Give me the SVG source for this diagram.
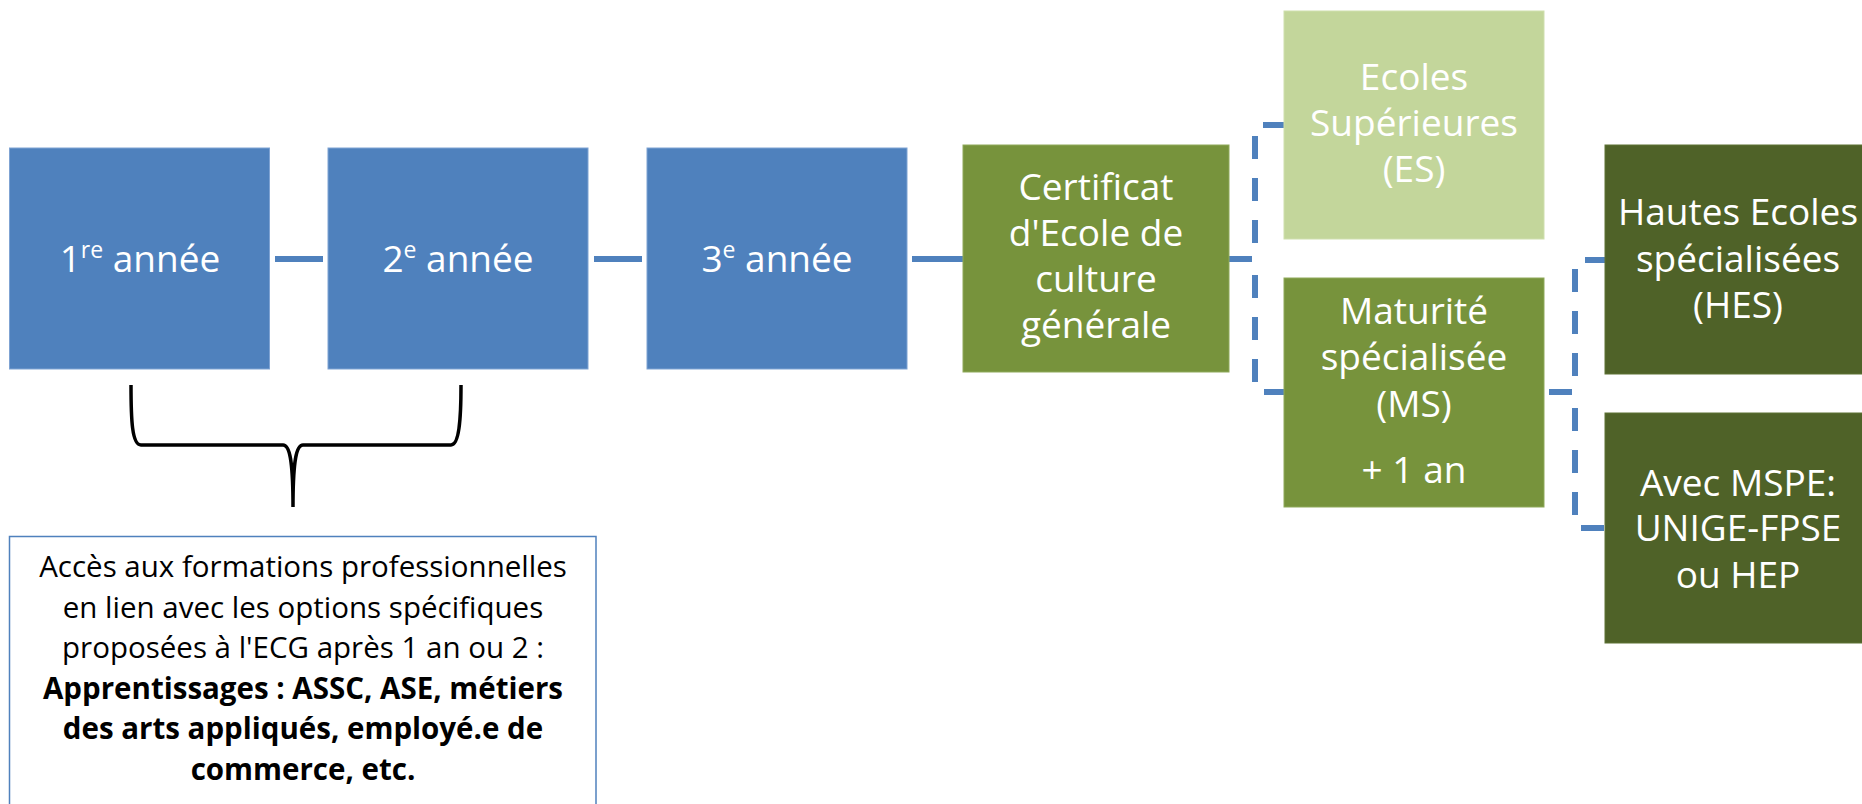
<svg xmlns="http://www.w3.org/2000/svg" width="1862" height="804" viewBox="0 0 1862 804">
  <style>
    .blue { fill: #4F81BD; stroke: #7FA3D3; stroke-width: 1; }
    .green { fill: #77933C; stroke: #8FA95A; stroke-width: 1; }
    .light { fill: #C3D69B; stroke: #CFDFAE; stroke-width: 1; }
    .dark { fill: #4F6228; stroke: #5E7234; stroke-width: 1; }
    .t { font-family: "Open Sans", "Noto Sans", sans-serif; font-size: 37px; fill: #FFFFFF; text-anchor: middle; }
    .sup { font-size: 23px; }
    .note { font-family: "Open Sans", "Noto Sans", sans-serif; font-size: 29.5px; fill: #000000; text-anchor: middle; }
    .b { font-weight: bold; }
    .solid { stroke: #4F81BD; stroke-width: 6; fill: none; }
    .dash { stroke: #4F81BD; stroke-width: 6; fill: none; stroke-dasharray: 23 19; }
  </style>

  <g id="connectors">
    <line class="solid" x1="275" y1="259" x2="323" y2="259"/>
    <line class="solid" x1="594" y1="259" x2="642" y2="259"/>
    <line class="solid" x1="912" y1="259" x2="963" y2="259"/>
    <path class="dash" d="M1229,259 H1255 V125 H1284"/>
    <path class="dash" d="M1229,259 H1255 V392 H1284"/>
    <path class="dash" d="M1549,392 H1575 V260 H1605"/>
    <path class="dash" d="M1549,392 H1575 V528 H1605"/>
  </g>

  <g id="node-annee1">
    <rect class="blue" x="9.5" y="148" width="260" height="221"/>
    <text class="t" x="140" y="272">1<tspan class="sup" dy="-14">re</tspan><tspan dy="14"> année</tspan></text>
  </g>
  <g id="node-annee2">
    <rect class="blue" x="328" y="148" width="260" height="221"/>
    <text class="t" x="458" y="272">2<tspan class="sup" dy="-14">e</tspan><tspan dy="14"> année</tspan></text>
  </g>
  <g id="node-annee3">
    <rect class="blue" x="647" y="148" width="260" height="221"/>
    <text class="t" x="777" y="272">3<tspan class="sup" dy="-14">e</tspan><tspan dy="14"> année</tspan></text>
  </g>
  <g id="node-certificat">
    <rect class="green" x="963" y="145" width="266" height="227"/>
    <text class="t" x="1096" y="200">Certificat</text>
    <text class="t" x="1096" y="246">d'Ecole de</text>
    <text class="t" x="1096" y="292">culture</text>
    <text class="t" x="1096" y="338">générale</text>
  </g>
  <g id="node-es">
    <rect class="light" x="1284" y="11" width="260" height="228"/>
    <text class="t" x="1414" y="90">Ecoles</text>
    <text class="t" x="1414" y="136">Supérieures</text>
    <text class="t" x="1414" y="182">(ES)</text>
  </g>
  <g id="node-ms">
    <rect class="green" x="1284" y="278" width="260" height="229"/>
    <text class="t" x="1414" y="324">Maturité</text>
    <text class="t" x="1414" y="370">spécialisée</text>
    <text class="t" x="1414" y="417">(MS)</text>
    <text class="t" x="1414" y="483">+ 1 an</text>
  </g>
  <g id="node-hes">
    <rect class="dark" x="1605" y="145" width="262" height="229"/>
    <text class="t" x="1738" y="225">Hautes Ecoles</text>
    <text class="t" x="1738" y="272">spécialisées</text>
    <text class="t" x="1738" y="318">(HES)</text>
  </g>
  <g id="node-mspe">
    <rect class="dark" x="1605" y="413" width="262" height="230"/>
    <text class="t" x="1738" y="496">Avec MSPE:</text>
    <text class="t" x="1738" y="541">UNIGE-FPSE</text>
    <text class="t" x="1738" y="588">ou HEP</text>
  </g>

  <g id="brace">
    <path d="M131,385 C131,420 132,445 141,445 H283 C290,445 293,462 293,507 C293,462 296,445 303,445 H451 C459,445 461,420 461,385" fill="none" stroke="#000000" stroke-width="3.5"/>
  </g>

  <g id="node-note">
    <rect x="9.5" y="536.5" width="586.5" height="280" fill="#FFFFFF" stroke="#4F81BD" stroke-width="1.5"/>
    <text class="note" x="303" y="577">Accès aux formations professionnelles</text>
    <text class="note" x="303" y="617.5">en lien avec les options spécifiques</text>
    <text class="note" x="303" y="658">proposées à l'ECG après 1 an ou 2 :</text>
    <text class="note b" x="303" y="698.5">Apprentissages : ASSC, ASE, métiers</text>
    <text class="note b" x="303" y="739">des arts appliqués, employé.e de</text>
    <text class="note b" x="303" y="779.5">commerce, etc.</text>
  </g>
</svg>
